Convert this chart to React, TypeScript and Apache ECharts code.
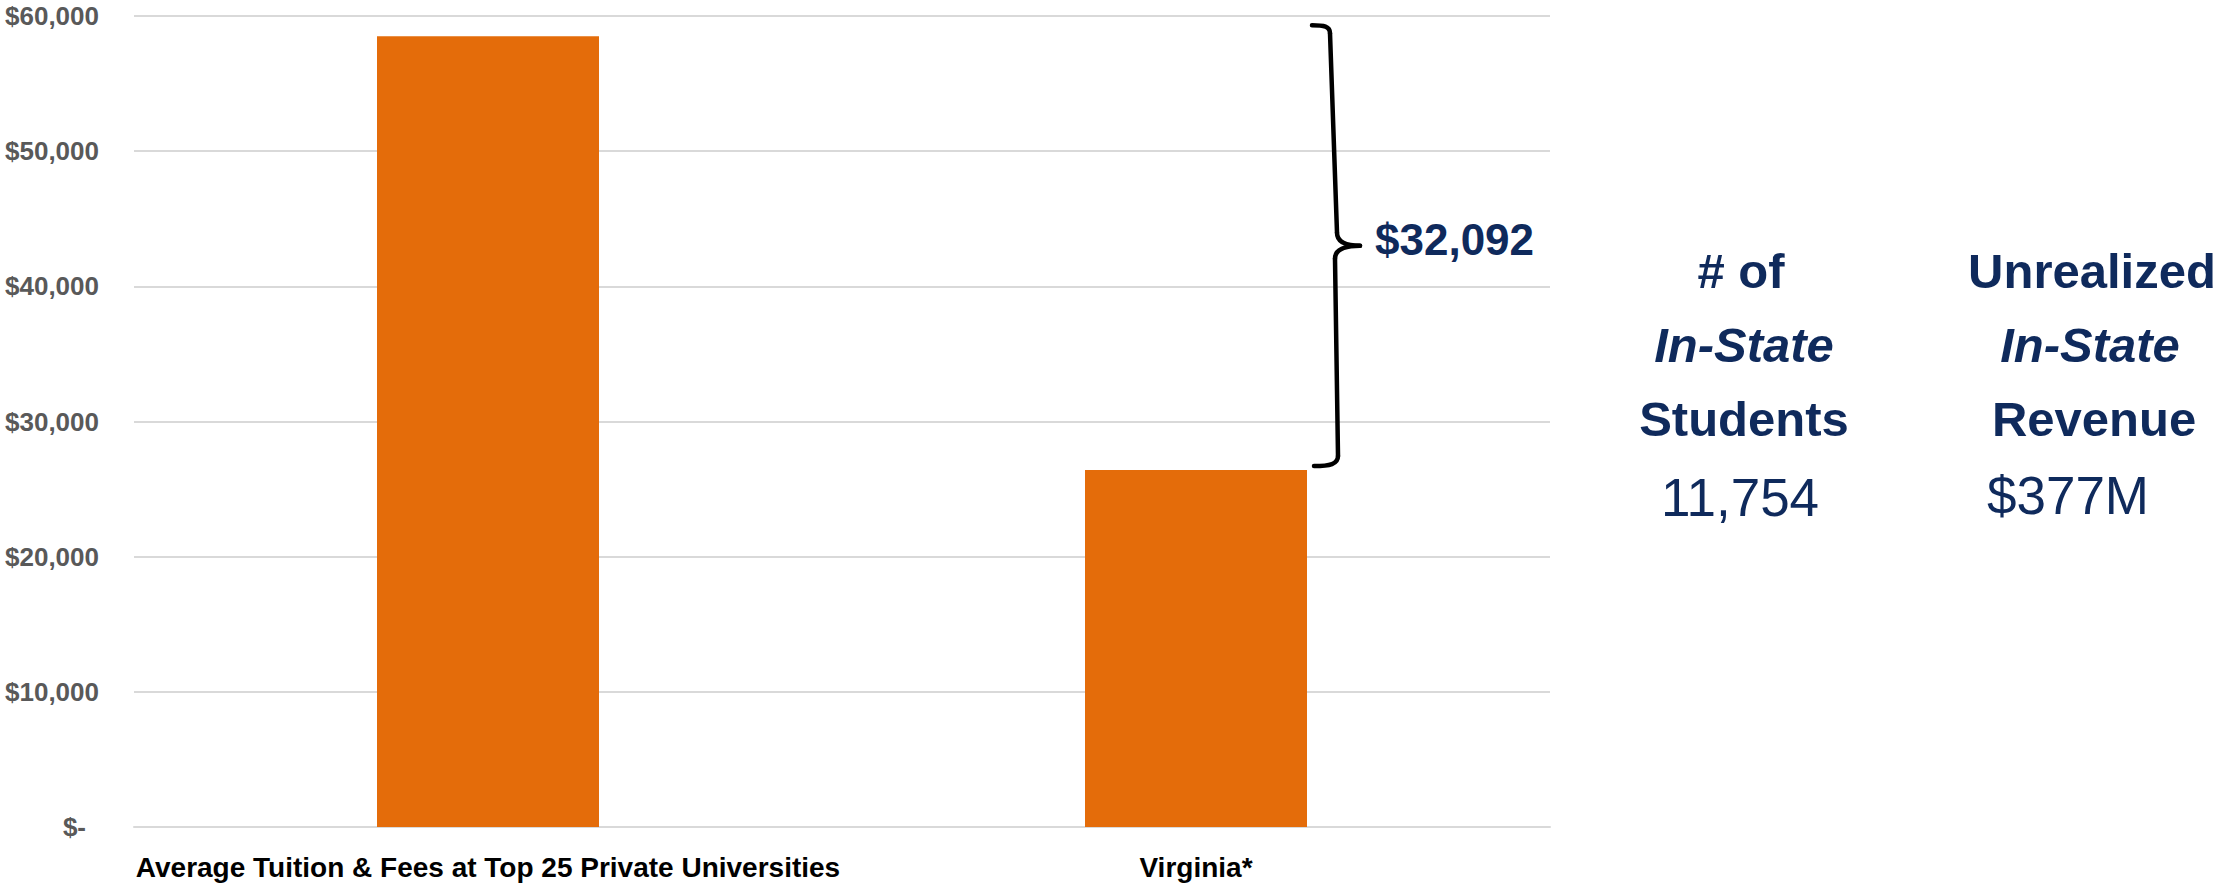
import React, { useEffect, useRef } from "react";
import * as echarts from "echarts";

const categories = ["Average Tuition & Fees at Top 25 Private Universities", "Virginia*"];
const tuitionValues = [58500, 26408];
const yTicks = { min: 0, max: 60000, interval: 10000 };
const gapLabel = "$32,092";
const col1Lines = ["# of", "In-State", "Students"];
const col2Lines = ["Unrealized", "In-State", "Revenue"];
const col1Value = "11,754";
const col2Value = "$377M";

const NAVY = "#0f2a5c";
const ORANGE = "#E46C0A";
const FONT = "'Liberation Sans', Arial, sans-serif";

export default function App() {
  const ref = useRef<HTMLDivElement>(null);

  useEffect(() => {
    document.body.style.margin = "0";
    if (!ref.current) return;
    const chart = echarts.init(ref.current, null, { renderer: "svg" });
    chart.setOption({
      animation: false,
      backgroundColor: "#ffffff",
      grid: { left: 134, right: 670, top: 16, bottom: 57, containLabel: false },
      xAxis: {
        type: "category",
        data: categories,
        axisLine: { show: true, lineStyle: { color: "#d9d9d9", width: 2 } },
        axisTick: { show: false },
        axisLabel: {
          interval: 0,
          margin: 26,
          color: "#000000",
          fontFamily: FONT,
          fontWeight: "bold",
          fontSize: 28,
          lineHeight: 28,
        },
      },
      yAxis: {
        type: "value",
        min: yTicks.min,
        max: yTicks.max,
        interval: yTicks.interval,
        axisLine: { show: false },
        axisTick: { show: false },
        splitLine: { lineStyle: { color: "#d9d9d9", width: 2 } },
        axisLabel: {
          margin: 35,
          color: "#595959",
          fontFamily: FONT,
          fontWeight: "bold",
          fontSize: 26,
          formatter: (v: number) =>
            v === 0 ? "{z|$-}" : "$" + v.toLocaleString("en-US"),
          rich: {
            z: {
              color: "#595959",
              fontFamily: FONT,
              fontWeight: "bold",
              fontSize: 26,
              padding: [0, 13, 0, 0],
            },
          },
        },
      },
      series: [
        {
          type: "bar",
          data: tuitionValues,
          barWidth: 222,
          itemStyle: { color: ORANGE },
        },
      ],
    });

    const [cx, topBar] = chart.convertToPixel({ gridIndex: 0 }, [1, tuitionValues[0]]) as number[];
    const [, lowBar] = chart.convertToPixel({ gridIndex: 0 }, [1, tuitionValues[1]]) as number[];
    const t = topBar - 11;
    const b = lowBar - 4;
    const m = (t + b) / 2;
    const braceStyle = { stroke: "#000000", lineWidth: 4.5, fill: "none", lineCap: "round" };

    const headerText = (text: string, x: number, y: number, italic = false, size = 49) => ({
      type: "text",
      x,
      y,
      style: {
        text,
        fill: NAVY,
        fontFamily: FONT,
        fontWeight: "bold",
        fontStyle: italic ? "italic" : "normal",
        fontSize: size,
        align: "center",
        verticalAlign: "middle",
      },
    });
    const valueText = (text: string, x: number, y: number) => ({
      type: "text",
      x,
      y,
      style: {
        text,
        fill: NAVY,
        fontFamily: FONT,
        fontWeight: "normal",
        fontSize: 53,
        align: "center",
        verticalAlign: "middle",
      },
    });

    const lineYs = [270.5, 345, 419];

    chart.setOption({
      graphic: [
        {
          type: "bezierCurve",
          shape: { x1: cx + 116, y1: t, cpx1: cx + 128, cpy1: t, cpx2: cx + 134, cpy2: t + 1, x2: cx + 134, y2: t + 8 },
          style: braceStyle,
        },
        {
          type: "line",
          shape: { x1: cx + 134, y1: t + 8, x2: cx + 141, y2: m - 13 },
          style: braceStyle,
        },
        {
          type: "bezierCurve",
          shape: { x1: cx + 141, y1: m - 13, cpx1: cx + 141, cpy1: m - 3, cpx2: cx + 150, cpy2: m, x2: cx + 164, y2: m },
          style: braceStyle,
        },
        {
          type: "bezierCurve",
          shape: { x1: cx + 164, y1: m, cpx1: cx + 150, cpy1: m, cpx2: cx + 139, cpy2: m + 3, x2: cx + 139, y2: m + 13 },
          style: braceStyle,
        },
        {
          type: "line",
          shape: { x1: cx + 139, y1: m + 13, x2: cx + 142, y2: b - 10 },
          style: braceStyle,
        },
        {
          type: "bezierCurve",
          shape: { x1: cx + 142, y1: b - 10, cpx1: cx + 142, cpy1: b - 2, cpx2: cx + 134, cpy2: b, x2: cx + 118, y2: b },
          style: braceStyle,
        },
        {
          type: "text",
          x: cx + 179,
          y: m - 6,
          style: {
            text: gapLabel,
            fill: NAVY,
            fontFamily: FONT,
            fontWeight: "bold",
            fontSize: 44,
            align: "left",
            verticalAlign: "middle",
          },
        },
        headerText(col1Lines[0], 1741, lineYs[0]),
        headerText(col1Lines[1], 1744, lineYs[1], true),
        headerText(col1Lines[2], 1744, lineYs[2]),
        valueText(col1Value, 1740, 497),
        headerText(col2Lines[0], 2092, lineYs[0]),
        headerText(col2Lines[1], 2090, lineYs[1], true),
        headerText(col2Lines[2], 2094, lineYs[2]),
        valueText(col2Value, 2068, 495),
      ],
    });

    return () => chart.dispose();
  }, []);

  return <div ref={ref} style={{ width: 2220, height: 884 }} />;
}
